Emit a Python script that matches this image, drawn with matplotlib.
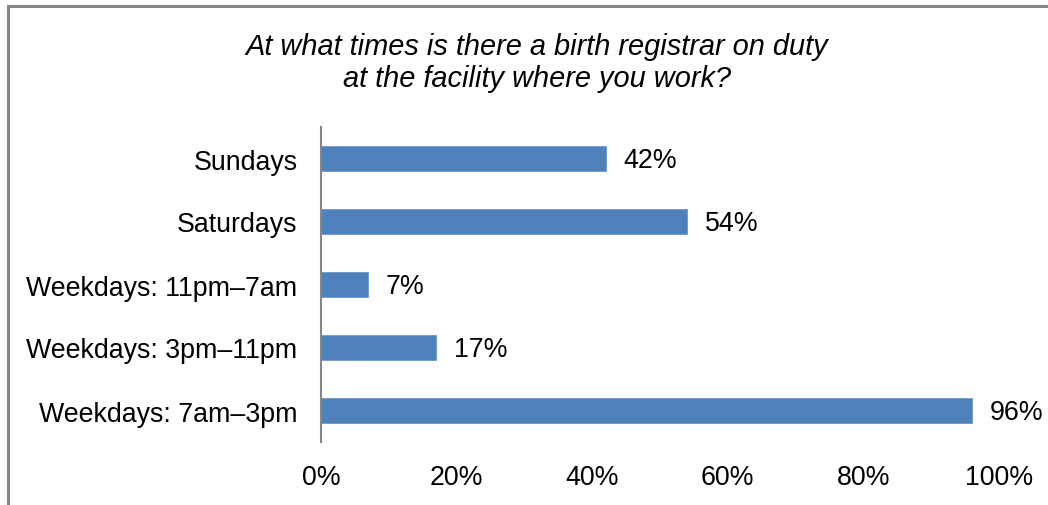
import numpy as np
import matplotlib.pyplot as plt
from matplotlib.patches import Rectangle

categories = ['Weekdays: 7am\u20133pm', 'Weekdays: 3pm\u201311pm', 'Weekdays: 11pm\u20137am',
              'Saturdays', 'Sundays']
values = [96, 17, 7, 54, 42]
xticks = [0, 20, 40, 60, 80, 100]

plt.rcParams['font.family'] = ['Liberation Sans', 'DejaVu Sans']
FS = 19.3

fig = plt.figure(figsize=(10.48, 5.06), dpi=100)
ax = fig.add_axes([321 / 1048, 1 - 443 / 506, 678 / 1048, 315 / 506])

# outer chart frame (only top and left edges show in the crop)
fig.patches.append(Rectangle((8 / 1048, -0.1), 1.2, 1 - 7 / 506 + 0.1,
                             transform=fig.transFigure, fill=False,
                             edgecolor='#878787', linewidth=2.2))

y = np.arange(len(categories))
ax.barh(y, values, height=0.4, color='#4F81BD', edgecolor='#6E97CB', linewidth=0.6)
for yi, v in zip(y, values):
    ax.text(v + 2.6, yi - 0.03, f'{v}%', va='center', ha='left', fontsize=FS)

ax.set_xlim(0, 100)
ax.set_ylim(-0.5, len(categories) - 0.5)
ax.set_yticks(y)
ax.set_yticklabels(categories, fontsize=FS)
ax.set_xticks(xticks)
ax.set_xticklabels([f'{t}%' for t in xticks], fontsize=FS)
ax.tick_params(axis='both', length=0)
ax.tick_params(axis='y', pad=17)
ax.tick_params(axis='x', pad=16)
for s in ['top', 'right', 'bottom']:
    ax.spines[s].set_visible(False)
ax.spines['left'].set_color('#878787')
ax.spines['left'].set_linewidth(1.5)

fig.text(537 / 1048, 1 - 63 / 506,
         'At what times is there a birth registrar on duty\nat the facility where you work?',
         ha='center', va='center', fontsize=20.9, style='italic', linespacing=1.2)

fig.savefig('out.png', dpi=100)
